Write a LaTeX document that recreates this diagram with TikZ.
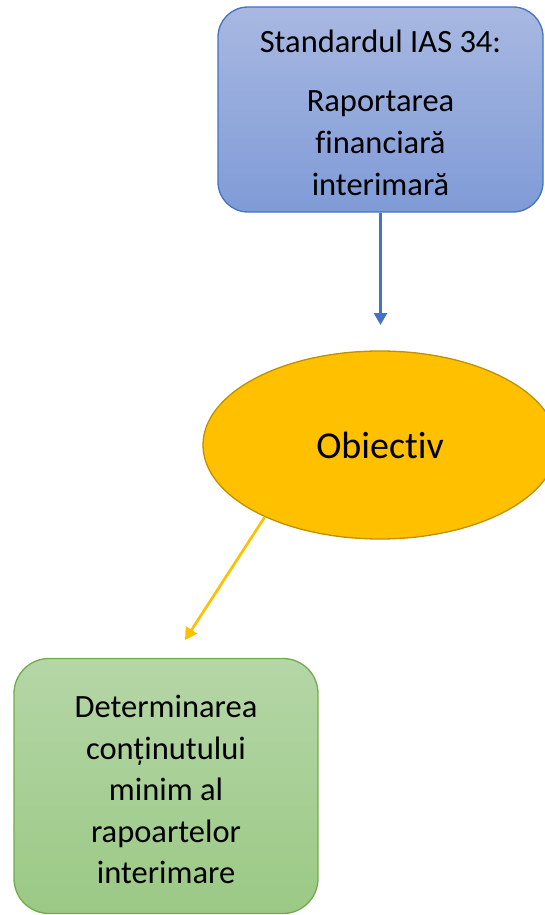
\documentclass[tikz,border=0pt]{standalone}
\usepackage{fontspec}
\setmainfont[Ligatures=NoCommon]{Carlito}
\usetikzlibrary{shapes.geometric,arrows.meta,calc}
\definecolor{bluetop}{HTML}{A8B8E1}
\definecolor{bluebot}{HTML}{7F9BD7}
\definecolor{blueline}{HTML}{4472C4}
\definecolor{greentop}{HTML}{B5D6A7}
\definecolor{greenbot}{HTML}{9BC985}
\definecolor{greenline}{HTML}{70AD47}
\definecolor{gold}{HTML}{FFC000}
\definecolor{goldline}{HTML}{BF9000}
\tikzset{
  bluebox/.style={draw=blueline, line width=1.3pt, rounded corners=30pt, top color=bluetop, bottom color=bluebot, inner sep=0pt},
  greenbox/.style={draw=greenline, line width=1.3pt, rounded corners=35pt, top color=greentop, bottom color=greenbot, inner sep=0pt},
  boxtext/.style={align=center, inner sep=0pt, font=\fontsize{32.5}{42}\selectfont},
  goldell/.style={ellipse, draw=goldline, line width=1.3pt, fill=gold, inner sep=0pt, font=\fontsize{38}{44}\selectfont},
  bluearrow/.style={draw=blueline, line width=2.7pt, -{Triangle[width=13pt,length=12pt]}},
  goldarrow/.style={draw=gold, line width=2.7pt, -{Triangle[width=13pt,length=12pt]}}
}
\begin{document}
\begin{tikzpicture}[x=1pt,y=-1pt]
\useasboundingbox (0,0) rectangle (545,915);
\node[bluebox, minimum width=325pt, minimum height=205pt] (std) at (380.5,109.5) {};
\node[boxtext, yshift=-3pt] (stdtxt) at (std.center)
  {Standardul IAS 34:\\[17pt]Raportarea\\financiară\\interimară};
\node[goldell, minimum width=354pt, minimum height=188pt] (obj) at (380,445) {Obiectiv};
\node[greenbox, minimum width=304pt, minimum height=255pt] (det) at (166,786) {};
\node[boxtext, font=\fontsize{32.5}{41.5}\selectfont, yshift=-3.5pt] (dettxt) at (det.center)
  {Determinarea\\conținutului\\minim al\\rapoartelor\\interimare};
\coordinate (btip) at (380.5,325);
\coordinate (otip) at (185,640);
\draw[bluearrow] (std.south) -- (btip);
\draw[goldarrow] (obj.212.7) -- (otip);
\end{tikzpicture}
\end{document}
